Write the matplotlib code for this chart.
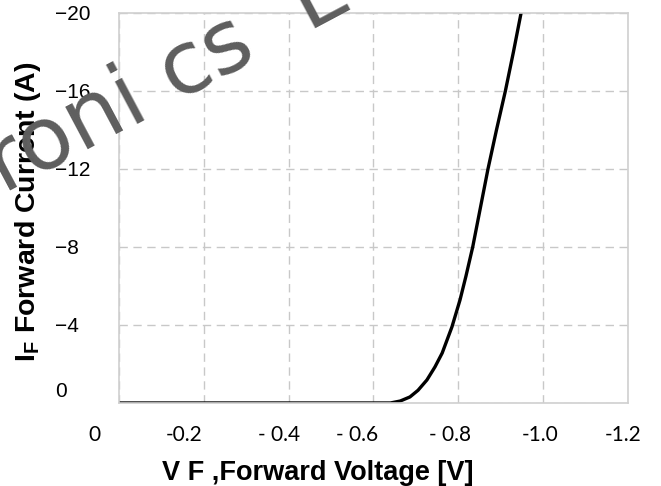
import numpy as np
import matplotlib
matplotlib.use("Agg")
import matplotlib.pyplot as plt
from matplotlib.transforms import ScaledTranslation

plt.rcParams['font.family'] = ['Liberation Sans', 'DejaVu Sans']
plt.rcParams['mathtext.fontset'] = 'custom'
plt.rcParams['mathtext.bf'] = 'Liberation Sans:bold'
plt.rcParams['mathtext.rm'] = 'Liberation Sans:bold'

# forward characteristic (V, A as negative values)
vf = [0.0, 0.30, 0.60, 0.64, 0.663, 0.686, 0.705, 0.726, 0.745, 0.762, 0.785,
      0.804, 0.818, 0.834, 0.852, 0.870, 0.890, 0.911, 0.930, 0.948]
i_f = [0.0, 0.0, 0.0, 0.0, 0.10, 0.31, 0.65, 1.18, 1.85, 2.56, 3.9,
       5.28, 6.5, 8.0, 10.0, 12.0, 14.0, 16.0, 18.0, 20.0]
vf = -np.array(vf)
i_f = -np.array(i_f)

# axis labels as printed on the datasheet
x_ticks = [0, -0.2, -0.4, -0.6, -0.8, -1.0, -1.2]
x_labels = ['0', '-0.2', '- 0.4', '- 0.6', '- 0.8', '-1.0', '-1.2']
y_ticks = [0, -4, -8, -12, -16, -20]
y_labels = ['0', '\u22124', '\u22128', '\u221212', '\u221216', '\u221220']
# the printed labels sit a little off their grid lines (pixels)
x_label_shift = [-25, -20, -10, -16, -8, -3, -5]
y_label_shift = [13, 0, 0, 0, 0, 0]

fig = plt.figure(figsize=(6.61, 4.86), dpi=100)
ax = fig.add_axes([0.180, 0.1708, 0.770, 0.8025])

ax.plot(vf, i_f, color='black', lw=2.4, zorder=3)

ax.set_xticks(x_ticks)
ax.set_xticklabels(x_labels, fontsize=15, family='Lato')
ax.set_yticks(y_ticks)
ax.set_yticklabels(y_labels, fontsize=15, ha='left')
ax.set_xlim(0, -1.2)
ax.set_ylim(0, -20)

ax.grid(color='#c8c8c8', ls=(0, (6, 4)), lw=1.0)
ax.tick_params(length=0)
ax.tick_params(axis='x', pad=16)
ax.tick_params(axis='y', pad=46)

# shift after tick_params, which would reset the label transforms
for lab, dx in zip(ax.get_xticklabels(), x_label_shift):
    lab.set_transform(lab.get_transform() + ScaledTranslation(dx / 100, 0, fig.dpi_scale_trans))
for lab, dy in zip(ax.get_yticklabels(), y_label_shift):
    lab.set_transform(lab.get_transform() + ScaledTranslation(0, dy / 100, fig.dpi_scale_trans))

for sp in ax.spines.values():
    sp.set_color('#d0d0d0')
    sp.set_linewidth(1.2)
    sp.set_zorder(4)

ax.set_xlabel('V F ,Forward Voltage [V]', fontsize=19.5, fontweight='bold')
ax.xaxis.set_label_coords(0.391, -0.146)
ax.set_ylabel(r'$\mathbf{I_F}$ Forward Current (A)', fontsize=20.5,
              fontweight='bold')
ax.yaxis.set_label_coords(-0.150, 0.49)

# watermark
fig.text(4 / 661, 1 - 194 / 486, 'roni cs  L', fontsize=63, color='#5e5e5e',
         family='DejaVu Sans', rotation=28, rotation_mode='anchor',
         ha='left', va='baseline')

fig.savefig('out.png', dpi=100)
